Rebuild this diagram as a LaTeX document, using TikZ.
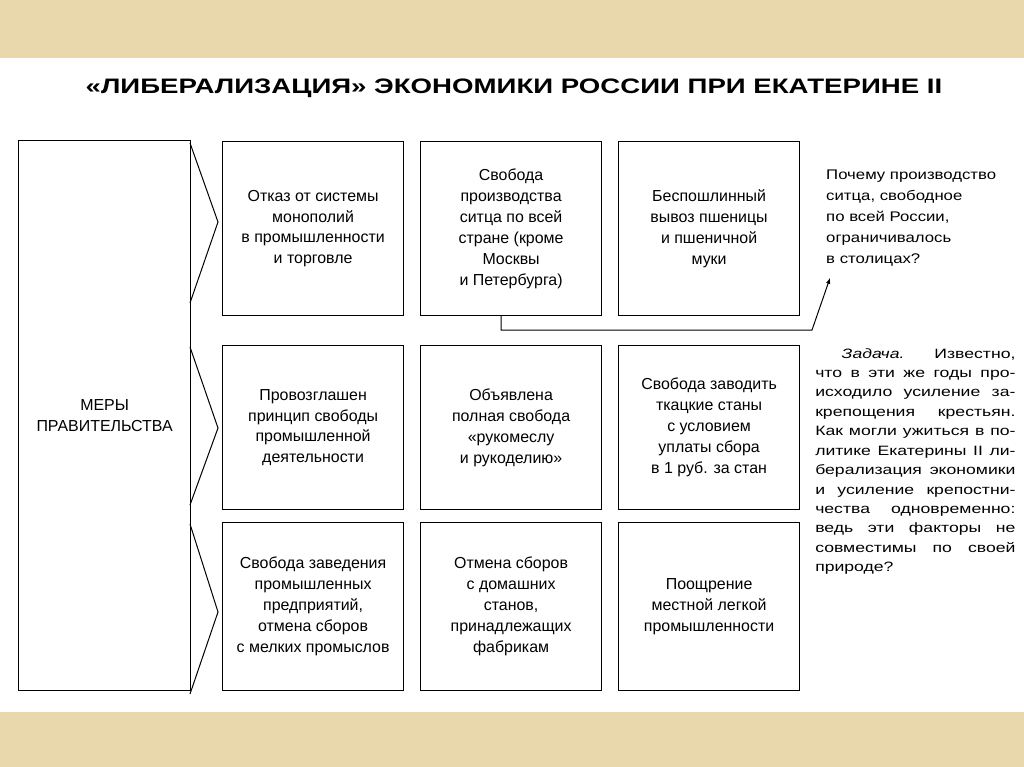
\documentclass[tikz,border=0pt]{standalone}
\usepackage{fontspec}
\setmainfont{Liberation Sans}
\definecolor{beige}{RGB}{232,216,172}
\begin{document}
\begin{tikzpicture}[x=1bp,y=-1bp,
  cell/.style={draw,line width=1.2pt,minimum width=181bp,anchor=north west,align=center,font=\fontsize{16}{21}\selectfont},
  chev/.style={line width=1pt},
  note/.style={anchor=north west,font=\fontsize{14}{21}\selectfont}]
\fill[beige] (0,0) rectangle (1024,767);
\fill[white] (0,58) rectangle (1024,712);
\useasboundingbox (0,0) rectangle (1024,767);
\node[font=\bfseries\fontsize{21}{24}\selectfont,xscale=1.32] (title) at (514,88) {«ЛИБЕРАЛИЗАЦИЯ» ЭКОНОМИКИ РОССИИ ПРИ ЕКАТЕРИНЕ II};
\node[draw,line width=1.2pt,minimum width=172bp,minimum height=550bp,anchor=north west,align=center,font=\fontsize{16}{21}\selectfont] (left) at (18,140) {МЕРЫ\\ПРАВИТЕЛЬСТВА};
\draw[chev] (190,143) -- (218,222) -- (190,303);
\draw[chev] (190,347) -- (218,428) -- (190,505);
\draw[chev] (190,524) -- (218,612) -- (190,694);
\node[cell,minimum height=174bp] (a1) at (222,141) {Отказ от системы\\монополий\\в промышленности\\и торговле};
\node[cell,minimum height=174bp] (a2) at (420,141) {Свобода\\производства\\ситца по всей\\стране (кроме\\Москвы\\и Петербурга)};
\node[cell,minimum height=174bp] (a3) at (618,141) {Беспошлинный\\вывоз пшеницы\\и пшеничной\\муки};
\node[cell,minimum height=164bp] (b1) at (222,345) {Провозглашен\\принцип свободы\\промышленной\\деятельности};
\node[cell,minimum height=164bp] (b2) at (420,345) {Объявлена\\полная свобода\\«рукомеслу\\и рукоделию»};
\node[cell,minimum height=164bp] (b3) at (618,345) {Свобода заводить\\ткацкие станы\\с условием\\уплаты сбора\\в 1 руб. за стан};
\node[cell,minimum height=168bp] (c1) at (222,522) {Свобода заведения\\промышленных\\предприятий,\\отмена сборов\\с мелких промыслов};
\node[cell,minimum height=168bp] (c2) at (420,522) {Отмена сборов\\с домашних\\станов,\\принадлежащих\\фабрикам};
\node[cell,minimum height=168bp] (c3) at (618,522) {Поощрение\\местной легкой\\промышленности};
\node[note,align=left,inner sep=0pt,xscale=1.2] (q) at (826,170) {Почему производство\\ситца, свободное\\по всей России,\\ограничивалось\\в столицах?};
\coordinate (qa) at (830,278);
\draw[line width=1pt,-latex] (a2.south -| 501,0) -- (501,330) -- (812,330) -- (qa);
\node[note,text width=154bp,align=justify,inner sep=0pt,xscale=1.3,font=\fontsize{13.6}{19.5}\selectfont] (task) at (815,348) {\hspace*{1.5em}\textit{Задача.} Известно,\linebreak что в эти же годы про-\linebreak исходило усиление за-\linebreak крепощения крестьян.\linebreak Как могли ужиться в по-\linebreak литике Екатерины II ли-\linebreak берализация экономики\linebreak и усиление крепостни-\linebreak чества одновременно:\linebreak ведь эти факторы не\linebreak совместимы по своей\linebreak природе?};
\end{tikzpicture}
\end{document}
